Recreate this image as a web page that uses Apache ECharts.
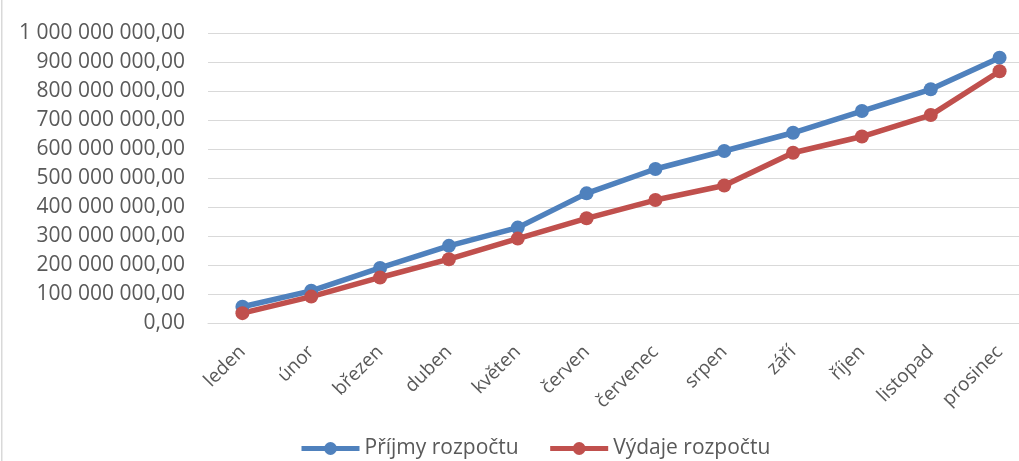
<!DOCTYPE html>
<html>
<head>
<meta charset="utf-8">
<script src="https://cdn.jsdelivr.net/npm/echarts@6/dist/echarts.min.js"></script>
<style>
  html, body { margin: 0; padding: 0; background: #fff; overflow: hidden; }
  /* plot area runs past the right edge of the picture, as in the original */
  #main { width: 1034px; height: 461px; }
</style>
</head>
<body>
<div id="main"></div>
<script>
// months (categories)
const months = ['leden', 'únor', 'březen', 'duben', 'květen', 'červen',
  'červenec', 'srpen', 'září', 'říjen', 'listopad', 'prosinec'];

// cumulative budget
const prijmy = [56e6, 111e6, 190e6, 266e6, 329e6, 447e6,
  531e6, 593e6, 656e6, 731e6, 806e6, 915e6];
const vydaje = [34e6, 91e6, 157e6, 220e6, 291e6, 361e6,
  424e6, 474e6, 587e6, 643e6, 717e6, 868e6];

const seriesNames = ['Příjmy rozpočtu', 'Výdaje rozpočtu'];
const colors = ['#4F81BD', '#C0504D'];

// "900 000 000,00"
function fmt(v) {
  const parts = v.toFixed(2).split('.');
  return parts[0].replace(/\B(?=(\d{3})+(?!\d))/g, ' ') + ',' + parts[1];
}

const FONT = 'Open Sans';
const chart = echarts.init(document.getElementById('main'));
chart.setOption({
  animation: false,
  color: colors,
  grid: { left: 208, right: 0, top: 33, bottom: 138, containLabel: false },
  legend: {
    left: 294, top: 433,
    itemWidth: 58, itemHeight: 16, itemGap: 29,
    lineStyle: { width: 5 },
    textStyle: { fontFamily: FONT, fontSize: 21, color: '#595959' },
    data: seriesNames
  },
  xAxis: {
    type: 'category',
    data: months,
    axisLine: { lineStyle: { color: '#d9d9d9', width: 1 } },
    axisTick: { show: false },
    axisLabel: {
      rotate: 45, margin: 26, interval: 0,
      fontFamily: FONT, fontSize: 19, color: '#595959'
    }
  },
  yAxis: {
    type: 'value',
    min: 0, max: 1e9, interval: 1e8,
    axisLine: { show: false },
    axisTick: { show: false },
    splitLine: { lineStyle: { color: '#d9d9d9', width: 1 } },
    axisLabel: {
      margin: 23,
      fontFamily: FONT, fontSize: 21, color: '#595959',
      formatter: fmt
    }
  },
  graphic: [{
    type: 'rect',
    shape: { x: 1, y: 0, width: 1.5, height: 461 },
    style: { fill: '#d9d9d9' }
  }],
  series: [
    {
      name: seriesNames[0], type: 'line', data: prijmy,
      symbol: 'circle', symbolSize: 14,
      lineStyle: { width: 5.5 }
    },
    {
      name: seriesNames[1], type: 'line', data: vydaje,
      symbol: 'circle', symbolSize: 14,
      lineStyle: { width: 5.5 }
    }
  ]
});
</script>
</body>
</html>
